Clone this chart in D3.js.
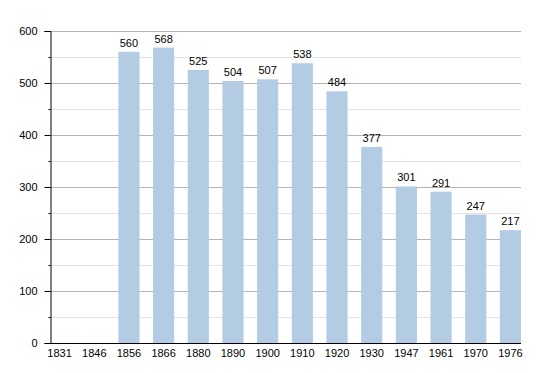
<!DOCTYPE html>
<html>
<head>
<meta charset="utf-8">
<script src="https://cdn.jsdelivr.net/npm/d3@7"></script>
<style>
  body { margin: 0; background: #fff; }
  svg text { font-family: "Liberation Sans", Arial, sans-serif; font-size: 11px; fill: #000; }
</style>
</head>
<body>
<div class="chart"></div>
<script>
// census years and population
var years = ["1831","1846","1856","1866","1880","1890","1900","1910","1920","1930","1947","1961","1970","1976"];
var population = [null, null, 560, 568, 525, 504, 507, 538, 484, 377, 301, 291, 247, 217];
var majorTicks = [0, 100, 200, 300, 400, 500, 600];
var minorTicks = [50, 150, 250, 350, 450, 550];

var w = 550, h = 373;
var margin = {top: 31, right: 29, bottom: 30, left: 50};

var svg = d3.select("div.chart")
    .append("svg")
    .attr("width", w)
    .attr("height", h);

var y = d3.scaleLinear()
    .domain([0, 600])
    .range([h - margin.bottom, margin.top]);

var x = d3.scaleBand()
    .domain(years)
    .range([margin.left - 1, w - margin.right])
    .paddingInner(0.39)
    .paddingOuter(0);

// minor gridlines
svg.selectAll(".minor")
    .data(minorTicks)
    .enter()
    .append("line")
      .attr("x1", margin.left)
      .attr("x2", w - margin.right)
      .attr("y1", function(d){ return Math.round(y(d)) + 0.5; })
      .attr("y2", function(d){ return Math.round(y(d)) + 0.5; })
      .attr("stroke", "#e3e3e3");

// major gridlines
svg.selectAll(".major")
    .data(majorTicks.slice(1))
    .enter()
    .append("line")
      .attr("x1", margin.left)
      .attr("x2", w - margin.right)
      .attr("y1", function(d){ return Math.round(y(d)) + 0.5; })
      .attr("y2", function(d){ return Math.round(y(d)) + 0.5; })
      .attr("stroke", "#b4b4b4");

// bars
var data = years.map(function(d, i){ return {year: d, value: population[i]}; })
    .filter(function(d){ return d.value != null; });

svg.selectAll(".bar")
    .data(data)
    .enter()
    .append("rect")
      .attr("x", function(d){ return x(d.year); })
      .attr("width", x.bandwidth())
      .attr("y", function(d){ return y(d.value); })
      .attr("height", function(d){ return y(0) - y(d.value); })
      .attr("fill", "#b3cce4");

svg.selectAll(".val")
    .data(data)
    .enter()
    .append("text")
      .attr("x", function(d){ return x(d.year) + x.bandwidth() / 2; })
      .attr("y", function(d){ return y(d.value) - 5; })
      .attr("text-anchor", "middle")
      .text(function(d){ return d.value; });

// y axis
var yAxis = d3.axisLeft(y)
    .tickValues(majorTicks)
    .tickSize(6)
    .tickPadding(7);

var gy = svg.append("g")
    .attr("transform", "translate(" + (margin.left + 0.5) + ",0)")
    .call(yAxis);
gy.select(".domain").attr("stroke", "#000");
gy.selectAll(".tick line").attr("stroke", "#000");
gy.selectAll(".tick text").style("font-size", "11px");

var gyMinor = svg.append("g")
    .attr("transform", "translate(" + (margin.left + 0.5) + ",0)")
    .call(d3.axisLeft(y).tickValues(minorTicks).tickSize(2).tickFormat(""));
gyMinor.select(".domain").remove();
gyMinor.selectAll(".tick line").attr("stroke", "#000");

// x axis
var xAxis = d3.axisBottom(x)
    .tickSize(0)
    .tickPadding(6);

var gx = svg.append("g")
    .attr("transform", "translate(0," + (h - margin.bottom + 0.5) + ")")
    .call(xAxis);
gx.select(".domain")
    .attr("d", "M" + margin.left + ",0H" + (w - margin.right))
    .attr("stroke", "#000");
gx.selectAll(".tick text").style("font-size", "11px");
</script>
</body>
</html>
